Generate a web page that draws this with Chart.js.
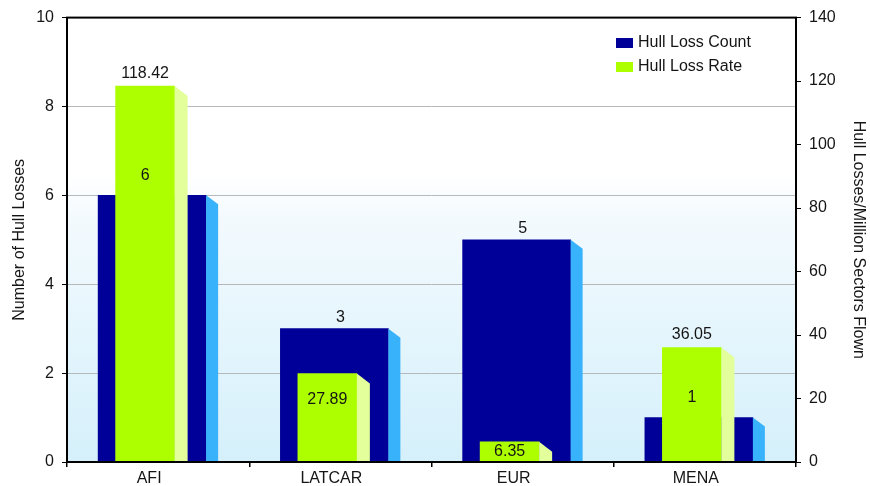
<!DOCTYPE html>
<html>
<head>
<meta charset="utf-8">
<script src="https://cdn.jsdelivr.net/npm/chart.js@4.4.0/dist/chart.umd.min.js"></script>
<style>
    html, body { margin: 0; padding: 0; background: #fff; }
    #wrap { width: 870px; height: 486px; }
</style>
</head>
<body>
<div id="wrap"><canvas id="chart" width="870" height="486"></canvas></div>
<script>
// chart data
const regions = ['AFI', 'LATCAR', 'EUR', 'MENA'];
const hullLossCount = [6, 3, 5, 1];
const hullLossRate = [118.42, 27.89, 6.35, 36.05];
const countTicks = [0, 2, 4, 6, 8, 10];
const rateTicks = [0, 20, 40, 60, 80, 100, 120, 140];

const FONT = '"Liberation Sans", Arial, sans-serif';
const TEXT = '#151515';

// 3D side faces + horizontal offset of each series
const SIDE = {
    count: { w: 12, drop: 9, color: '#38b2fb' },
    rate: { w: 13, drop: 10, color: '#e2ff9c' }
};
const SHIFT = { count: -6, rate: -13 };

const plotBackground = {
    id: 'plotBackground',
    beforeDraw(chart) {
        const { ctx, chartArea: a } = chart;
        const g = ctx.createLinearGradient(0, a.top, 0, a.bottom);
        g.addColorStop(0, '#ffffff');
        g.addColorStop(0.35, '#ffffff');
        g.addColorStop(0.45, '#f3fafe');
        g.addColorStop(1, '#d5f0fb');
        ctx.save();
        ctx.fillStyle = g;
        ctx.fillRect(a.left, a.top, a.right - a.left, a.bottom - a.top);
        ctx.restore();
    }
};

const barShift = {
    id: 'barShift',
    afterDatasetsUpdate(chart) {
        chart.data.datasets.forEach((ds, i) => {
            chart.getDatasetMeta(i).data.forEach(el => { el.x += SHIFT[ds.key]; });
        });
    }
};

const sideFaces = {
    id: 'sideFaces',
    afterDatasetDraw(chart, args) {
        const s = SIDE[chart.data.datasets[args.index].key];
        const ctx = chart.ctx;
        ctx.save();
        ctx.fillStyle = s.color;
        args.meta.data.forEach(el => {
            const r = el.x + el.width / 2;
            ctx.beginPath();
            ctx.moveTo(r, el.y);
            ctx.lineTo(r + s.w, el.y + s.drop);
            ctx.lineTo(r + s.w, el.base);
            ctx.lineTo(r, el.base);
            ctx.closePath();
            ctx.fill();
        });
        ctx.restore();
    }
};

const frameAndLabels = {
    id: 'frameAndLabels',
    afterDatasetsDraw(chart) {
        const { ctx, chartArea: a } = chart;
        const countBars = chart.getDatasetMeta(0).data;
        const rateBars = chart.getDatasetMeta(1).data;

        ctx.save();
        // frame
        ctx.strokeStyle = '#000';
        ctx.lineWidth = 2;
        ctx.strokeRect(a.left, a.top, a.right - a.left, a.bottom - a.top);

        // value labels
        ctx.font = '16px ' + FONT;
        ctx.fillStyle = TEXT;
        ctx.textAlign = 'center';
        ctx.textBaseline = 'middle';
        countBars.forEach((el, i) => {
            const g = rateBars[i];
            const covered = g.y < el.y;
            const x = covered ? g.x : el.x - SHIFT.count;
            const y = covered ? el.y - 20 : el.y - 11;
            ctx.fillText(String(hullLossCount[i]), x, y);
        });
        rateBars.forEach((el, i) => {
            const b = countBars[i];
            const y = el.y < b.y ? el.y - 13 : Math.min(el.y + 26, (el.y + el.base) / 2);
            ctx.fillText(hullLossRate[i].toFixed(2), el.x, y);
        });

        // legend inside the plot
        ctx.font = '16px ' + FONT;
        ctx.textAlign = 'left';
        chart.data.datasets.forEach((ds, i) => {
            const y = 43 + i * 24;
            ctx.fillStyle = ds.backgroundColor;
            ctx.fillRect(616, y - 5, 17, 10);
            ctx.fillStyle = TEXT;
            ctx.fillText(ds.label, 638, y);
        });
        ctx.restore();
    }
};

new Chart(document.getElementById('chart'), {
    type: 'bar',
    data: {
        labels: regions,
        datasets: [
            {
                key: 'count',
                label: 'Hull Loss Count',
                data: hullLossCount,
                backgroundColor: '#000099',
                barThickness: 108,
                grouped: false,
                yAxisID: 'y',
                order: 2
            },
            {
                key: 'rate',
                label: 'Hull Loss Rate',
                data: hullLossRate,
                backgroundColor: '#adff00',
                barThickness: 59,
                grouped: false,
                yAxisID: 'y1',
                order: 1
            }
        ]
    },
    options: {
        responsive: false,
        animation: false,
        devicePixelRatio: 1,
        layout: { padding: { top: 17, left: 0, right: 0, bottom: 0 } },
        plugins: {
            legend: { display: false },
            tooltip: { enabled: false }
        },
        scales: {
            x: {
                offset: true,
                border: { display: false },
                grid: { offset: true, drawOnChartArea: false, tickLength: 5, color: '#000', lineWidth: 1.5 },
                ticks: { color: TEXT, font: { family: FONT, size: 16 }, padding: 2, labelOffset: -9 },
                afterFit(scale) { scale.height = 24; }
            },
            y: {
                position: 'left',
                min: countTicks[0],
                max: countTicks[countTicks.length - 1],
                afterBuildTicks(scale) { scale.ticks = countTicks.map(v => ({ value: v })); },
                border: { display: false },
                grid: {
                    color: '#b5b9bb',
                    lineWidth: 1,
                    tickColor: '#000',
                    tickLength: 5
                },
                ticks: { color: TEXT, font: { family: FONT, size: 16 }, padding: 8 },
                title: {
                    display: true,
                    text: 'Number of Hull Losses',
                    color: TEXT,
                    font: { family: FONT, size: 16 },
                    padding: { top: 10, bottom: 0 }
                },
                afterFit(scale) { scale.width = 67; }
            },
            y1: {
                position: 'right',
                min: rateTicks[0],
                max: rateTicks[rateTicks.length - 1],
                afterBuildTicks(scale) { scale.ticks = rateTicks.map(v => ({ value: v })); },
                border: { display: false },
                grid: { drawOnChartArea: false, color: '#000', tickLength: 5 },
                ticks: { color: TEXT, font: { family: FONT, size: 16 }, padding: 8 },
                title: {
                    display: true,
                    text: 'Hull Losses/Million Sectors Flown',
                    color: TEXT,
                    font: { family: FONT, size: 16 },
                    padding: { top: 2, bottom: 0 }
                },
                afterFit(scale) { scale.width = 74; }
            }
        }
    },
    plugins: [plotBackground, barShift, sideFaces, frameAndLabels]
});
</script>
</body>
</html>
